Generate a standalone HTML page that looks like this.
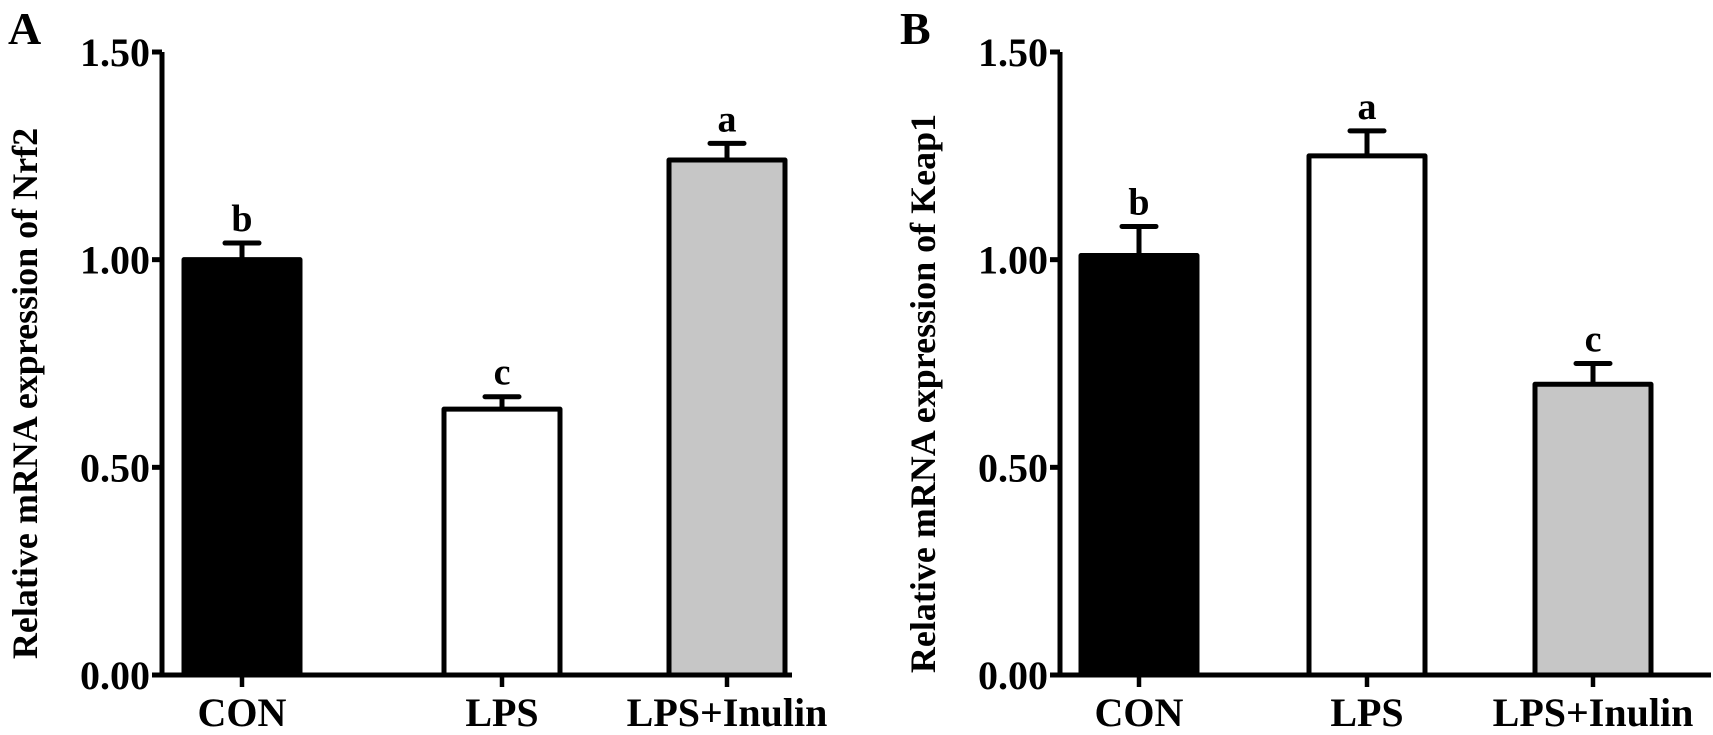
<!DOCTYPE html>
<html><head><meta charset="utf-8"><style>
html,body{margin:0;padding:0;background:#fff;}
svg{display:block;font-family:"Liberation Serif",serif;font-weight:bold;}
</style></head><body>
<svg id="chart" width="1713" height="735" viewBox="0 0 1713 735"></svg>
<script>
const categories = ["CON", "LPS", "LPS+Inulin"];
const nrf2Values = [1.00, 0.64, 1.24];
const nrf2Errors = [0.04, 0.03, 0.04];
const nrf2Letters = ["b", "c", "a"];
const keap1Values = [1.01, 1.25, 0.70];
const keap1Errors = [0.07, 0.06, 0.05];
const keap1Letters = ["b", "a", "c"];
const tickValues = [0, 0.5, 1.0, 1.5];
const tickLabels = ["0.00", "0.50", "1.00", "1.50"];
const fills = ["#000000", "#ffffff", "#c6c6c6"];

const NS = "http://www.w3.org/2000/svg";
const svg = document.getElementById("chart");
function mk(tag, attrs, parent) {
  const e = document.createElementNS(NS, tag);
  for (const k in attrs) e.setAttribute(k, attrs[k]);
  (parent || svg).appendChild(e);
  return e;
}

function panel(cfg) {
  const g = mk("g", {});
  
  
  const y0 = 675, yTop = 52, vmax = 1.5;
  const yScale = v => y0 - (v / vmax) * (y0 - yTop);
  const bw = 116;
  const xCenter = i => cfg.centers[i];

  const letter = mk("text", {x: cfg.letterX, y: 44, "font-size": 46}, g);
  letter.textContent = cfg.letter;
  
  

  const title = mk("text", {x: 0, y: 0, "font-size": 36, "text-anchor": "middle",
    transform: `translate(${cfg.axisX - 125},${(y0 + yTop) / 2 + 30}) rotate(-90)`}, g);
  title.textContent = cfg.title;
  
  

  categories.forEach((c, i) => {
    const cx = xCenter(i);
    const v = cfg.values[i], e = cfg.errors[i];
    const err = mk("path", {d: `M${cx},${yScale(v)} V${yScale(v + e)} M${cx - 17},${yScale(v + e)} H${cx + 17}`,
      stroke: "#000", "stroke-width": 5, fill: "none", "stroke-linecap": "round"}, g);
    
    
    const r = mk("rect", {x: cx - bw / 2, y: yScale(v), width: bw, height: y0 - yScale(v),
      fill: fills[i], stroke: "#000", "stroke-width": 5, "stroke-linejoin": "round"}, g);
    
    
    const sl = mk("text", {x: cx, y: yScale(v + e) - 12, "font-size": 38, "text-anchor": "middle"}, g);
    sl.textContent = cfg.letters[i];
    
    
    const tk = mk("line", {x1: cx, x2: cx, y1: y0, y2: y0 + 12, stroke: "#000", "stroke-width": 4.5}, g);
    
    
    const cl = mk("text", {x: cx, y: 726, "font-size": 40, "text-anchor": "middle"}, g);
    cl.textContent = c;
    
    
  });

  const ax = mk("path", {d: `M${cfg.axisX},${yTop} V${y0} H${cfg.xEnd}`, stroke: "#000", "stroke-width": 5, fill: "none"}, g);
  
  
  tickValues.forEach((t, i) => {
    const y = yScale(t);
    const l = mk("line", {x1: cfg.axisX - 10, x2: cfg.axisX, y1: y, y2: y, stroke: "#000", "stroke-width": 5}, g);
    
    
    const tl = mk("text", {x: cfg.axisX - 12, y: y + 14, "font-size": 40, "text-anchor": "end"}, g);
    tl.textContent = tickLabels[i];
    
    
  });
}

panel({name: "panel-a-nrf2", letter: "A", letterX: 8, title: "Relative mRNA expression of Nrf2",
  axisX: 162, xEnd: 792, centers: [242, 502, 727],
  values: nrf2Values, errors: nrf2Errors, letters: nrf2Letters});
panel({name: "panel-b-keap1", letter: "B", letterX: 900, title: "Relative mRNA expression of Keap1",
  axisX: 1060, xEnd: 1711, centers: [1139, 1367, 1593],
  values: keap1Values, errors: keap1Errors, letters: keap1Letters});
</script>
</body></html>
